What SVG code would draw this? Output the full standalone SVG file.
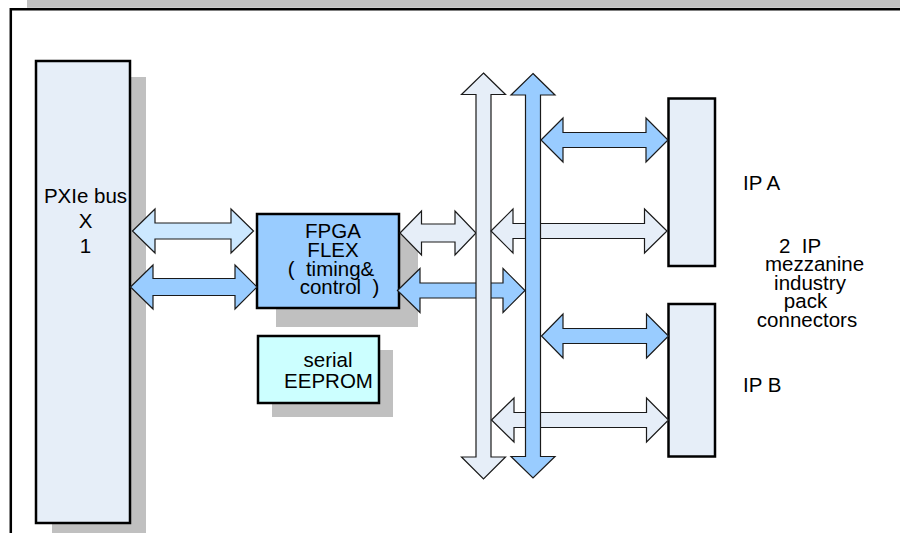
<svg xmlns="http://www.w3.org/2000/svg" width="900" height="533" viewBox="0 0 900 533">
<style>
.t{font-family:"Liberation Sans",Arial,sans-serif;font-size:20.5px;fill:#000}
.m{text-anchor:middle}
.box{stroke:#000;stroke-width:2.5}
.sh{fill:#C0C0C0}
.ar{stroke:#1a1a1a;stroke-width:1.2;stroke-linejoin:miter}
.lt{fill:#E6EEF8}
.bl{fill:#99CCFF}
.sk{fill:#CCE8FF}
</style>
<rect width="900" height="533" fill="#fff"/>
<g id="frame">
<rect x="27" y="0" width="873" height="7.8" fill="#C0C0C0"/>
<path d="M10.8,533 V9.2 H900" fill="none" stroke="#000" stroke-width="2.5"/>
</g>
<g id="pxie">
<rect class="sh" x="52" y="77" width="94" height="470"/>
<rect class="box" x="36" y="61" width="94" height="462" fill="#E6EEF8"/>
<text class="t m" x="85.5" y="202.5">PXIe bus</text>
<text class="t m" x="85.5" y="227.5">X</text>
<text class="t m" x="85.5" y="253">1</text>
</g>
<g id="fpga">
<rect class="sh" x="276" y="233" width="142" height="94"/>
<rect class="box" x="257" y="214" width="142" height="94" fill="#99CCFF"/>
<text class="t m" x="333" y="238">FPGA</text>
<text class="t m" x="333" y="256.5">FLEX</text>
<text class="t m" x="331" y="275.5" xml:space="preserve">(  timing&amp;</text>
<text class="t m" x="339.5" y="294" xml:space="preserve">control  )</text>
</g>
<g id="eeprom">
<rect class="sh" x="272" y="350" width="121" height="67"/>
<rect class="box" x="258" y="336" width="121" height="67" fill="#CCFFFF"/>
<text class="t m" x="328" y="366.5">serial</text>
<text class="t m" x="328.5" y="388">EEPROM</text>
</g>
<g id="ipa">
<rect class="box" x="668.5" y="98.5" width="46.5" height="167.5" fill="#E6EEF8"/>
<text class="t" x="743" y="190">IP A</text>
</g>
<g id="ipb">
<rect class="box" x="668.5" y="304" width="46.5" height="152.5" fill="#E6EEF8"/>
<text class="t" x="743" y="391.5">IP B</text>
</g>
<g id="label">
<text class="t m" x="800" y="253" xml:space="preserve">2  IP</text>
<text class="t m" x="814.5" y="270.5">mezzanine</text>
<text class="t m" x="810" y="289.5">industry</text>
<text class="t m" x="805.5" y="308">pack</text>
<text class="t m" x="807" y="327">connectors</text>
</g>
<g id="connectors">
<path class="ar sk" d="M132.5,231 L155,209 L155,223 L231,223 L231,209 L253.5,231 L231,253 L231,239 L155,239 L155,253 Z"/>
<path class="ar bl" d="M130.5,287 L153,265 L153,278.5 L235,278.5 L235,265 L257,287 L235,309 L235,295.5 L153,295.5 L153,309 Z"/>
<path class="ar lt" d="M400,233 L421.5,211 L421.5,224 L455,224 L455,211 L476,233 L455,255 L455,242 L421.5,242 L421.5,255 Z"/>
<path class="ar bl" d="M397.5,290.5 L420,268.5 L420,283 L503,283 L503,268.5 L525,290.5 L503,312.5 L503,298 L420,298 L420,312.5 Z"/>
<path class="ar lt" d="M483.5,73 L505.5,94.5 L491,94.5 L491,457 L505.5,457 L483.5,479 L461.5,457 L476,457 L476,94.5 L461.5,94.5 Z"/>
<path class="ar lt" d="M491,231 L513,209 L513,223.5 L644.5,223.5 L644.5,209 L667,231 L644.5,253 L644.5,238.5 L513,238.5 L513,253 Z"/>
<path class="ar lt" d="M491.5,420 L514,398 L514,412.5 L646.5,412.5 L646.5,398 L668.5,420 L646.5,442 L646.5,427.5 L514,427.5 L514,442 Z"/>
<path class="ar bl" d="M533,73.5 L555,95 L540.5,95 L540.5,456.5 L555,456.5 L533,478 L511,456.5 L525.5,456.5 L525.5,95 L511,95 Z"/>
<path class="ar bl" d="M541,140 L563,118 L563,132.5 L646,132.5 L646,118 L668,140 L646,162 L646,147.5 L563,147.5 L563,162 Z"/>
<path class="ar bl" d="M541.5,336 L563,314 L563,328.5 L646.5,328.5 L646.5,314 L668.5,336 L646.5,358 L646.5,343.5 L563,343.5 L563,358 Z"/>
</g>
</svg>
